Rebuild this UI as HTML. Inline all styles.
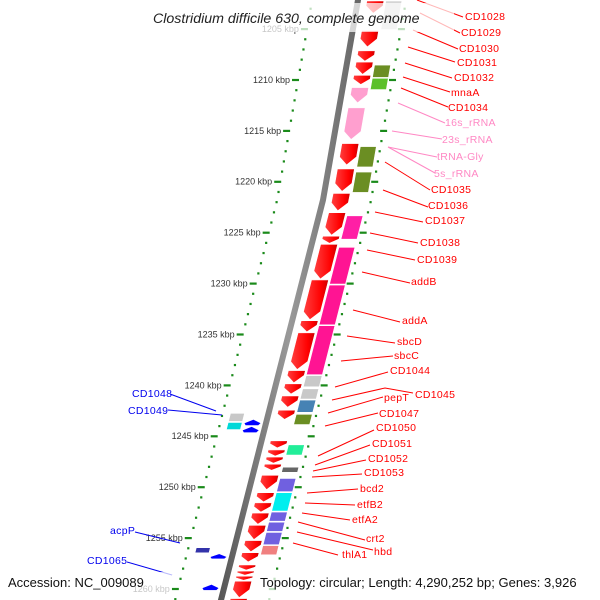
<!DOCTYPE html>
<html><head><meta charset="utf-8"><style>
body{margin:0;background:#fff;}
svg{display:block;font-family:"Liberation Sans",sans-serif;}
</style></head><body>
<svg id="map" width="600" height="600" viewBox="0 0 600 600">
<defs>
<linearGradient id="gRed" x1="0" x2="1" y1="0" y2="0"><stop offset="0" stop-color="#ff4040"/><stop offset="0.7" stop-color="#f00"/><stop offset="1" stop-color="#c00"/></linearGradient>
<linearGradient id="gBack" x1="0" x2="1"><stop offset="0" stop-color="#555"/><stop offset="0.5" stop-color="#999"/><stop offset="1" stop-color="#666"/></linearGradient>
</defs>
<g id="ticks"></g>
<g id="backbone"></g>
<g id="genes"></g>
<g id="labels"></g>
<rect x="148" y="3" width="306" height="29" fill="#fff" fill-opacity="0.72"/>
<text x="153" y="23" font-size="14.2" font-style="italic" fill="#222">Clostridium difficile 630, complete genome</text>
<rect x="4" y="572" width="168" height="28" fill="#fff" fill-opacity="0.72"/>
<text x="8" y="587" font-size="13" fill="#111">Accession: NC_009089</text>
<rect x="255" y="572" width="343" height="28" fill="#fff" fill-opacity="0.72"/>
<text x="260" y="587" font-size="13" fill="#111">Topology: circular; Length: 4,290,252 bp; Genes: 3,926</text>
</svg>
<script>
// gene data (kbp)
const geneStart = [1202.2,1205.1,1207.1,1208.2,1209.5,1210.7,1212.7,1216.2,1218.7,1221.1,1223.0,1225.3,1226.1,1229.6,1233.6,1234.8,1238.5,1239.8,1241.0,1242.4,1245.4,1246.3,1247.0,1247.7,1248.8,1250.5,1251.5,1252.5,1253.7,1255.2,1256.4,1257.6,1258.2,1258.7,1259.2,1260.9,
 1202.2,1208.5,1209.8,1216.5,1219.0,1223.3,1226.4,1230.1,1234.1,1239.0,1240.3,1241.4,1242.8,1245.8,1248.0,1249.1,1250.5,1252.4,1253.4,1254.4,1255.7,
 1242.7,1243.6,1243.3,1244.0,1255.9,1256.5,1259.5];
const geneEnd = [1203.5,1206.8,1208.2,1209.5,1210.5,1212.3,1215.9,1218.4,1221.0,1222.9,1225.3,1226.1,1229.6,1233.6,1234.8,1238.5,1239.8,1240.9,1242.2,1243.4,1246.2,1247.0,1247.7,1248.4,1250.3,1251.5,1252.5,1253.7,1255.2,1256.4,1257.4,1258.2,1258.7,1259.2,1260.9,1262.2,
 1205.1,1209.8,1211.0,1218.6,1221.1,1225.7,1230.1,1234.1,1239.0,1240.2,1241.4,1242.7,1243.9,1246.9,1248.6,1250.5,1252.4,1253.4,1254.4,1255.7,1256.7,
 1243.6,1244.4,1244.0,1244.7,1256.5,1257.1,1260.2];
const geneTrack = [1,1,1,1,1,1,1,1,1,1,1,1,1,1,1,1,1,1,1,1,1,1,1,1,1,1,1,1,1,1,1,1,1,1,1,1,
 2,2,2,2,2,2,2,2,2,2,2,2,2,2,2,2,2,2,2,2,2,
 -2,-2,-1,-1,-2,-1,-1];
const geneColor = ['r','r','r','r','r','#ff9fcf','#ff9fcf','r','r','r','r','r','r','r','r','r','r','r','r','r','r','r','r','r','r','r','r','r','r','r','r','r','r','r','r','r',
 '#d4d4d4','#6b8e23','#5cc02a','#6b8e23','#6b8e23','#ff1fa5','#ff1493','#ff1493','#ff1493','#c8c8c8','#c8c8c8','#4682b4','#6b8e23','#22ee99','#666666','#7060e0','#00eeee','#7060e0','#7060e0','#7060e0','#f08080',
 '#c8c8c8','#00d8d8','#0000ff','#0000ff','#3333aa','#0000ff','#0000ff'];
const tickKbp = [1205,1210,1215,1220,1225,1230,1235,1240,1245,1250,1255,1260];

const NS='http://www.w3.org/2000/svg';
function mk(t,a,p){const e=document.createElementNS(NS,t);for(const k in a)e.setAttribute(k,a[k]);p.appendChild(e);return e;}
function yOf(k){return 29+(k-1205)*10.18;}
const bp=[[-20,361],[0,358],[200,323],[380,277],[600,221],[640,211]];
function bx(y){for(let i=0;i<bp.length-1;i++){const a=bp[i],b=bp[i+1];if(y<=b[0]){return a[1]+(b[1]-a[1])*(y-a[0])/(b[0]-a[0]);}}return bp[bp.length-1][1];}
const trackOff={1:[9,26],2:[28,44],'-1':[-20,-7],'-2':[-38,-24]};

// backbone
const bb=document.getElementById('backbone');
let pts=[];for(let y=-10;y<=610;y+=10)pts.push(bx(y)+','+y);
const bl=mk('polyline',{points:pts.join(' '),fill:'none',stroke:'url(#gBack)','stroke-width':6},bb);



// ticks
const tg=document.getElementById('ticks');
for(let k=1202;k<=1262;k++){
  const y=yOf(k);const xl=bx(y)-46,xr=bx(y)+48;
  const major=(k%5===0);
  const d1=mk('rect',{x:major?xl-6:xl-1,y:y-1,width:major?7:2.2,height:2.2,fill:'#1a8a1a'},tg);
  
  
  const d2=mk('rect',{x:major?xr-3:xr-1,y:y-1,width:major?7:2.2,height:2.2,fill:'#1a8a1a'},tg);
  
  
}
tickKbp.forEach(k=>{
  const y=yOf(k);
  const t=mk('text',{x:bx(y)-54,y:y+3,'text-anchor':'end','font-size':9,fill:'#333'},tg);
  t.textContent=k+' kbp';
  
  
});

// genes
const gg=document.getElementById('genes');
for(let i=0;i<geneStart.length;i++){
  const y0=yOf(geneStart[i])+0.5,y1=yOf(geneEnd[i])-0.5;
  const tr=geneTrack[i],o=trackOff[tr];
  const b0=bx(y0),b1=bx(y1);
  let d;
  const col=geneColor[i]==='r'?'url(#gRed)':geneColor[i];
  if(tr===2||tr===-2){
    d=`M${b0+o[0]},${y0}L${b0+o[1]},${y0}L${b1+o[1]},${y1}L${b1+o[0]},${y1}Z`;
  }else if(tr===1){
    const h=Math.min(8,(y1-y0)*0.6);const ym=y1-h;const bm=bx(ym);
    d=`M${b0+o[0]},${y0}L${b0+o[1]},${y0}L${bm+o[1]},${ym}L${b1+(o[0]+o[1])/2},${y1}L${bm+o[0]},${ym}Z`;
  }else{
    const h=Math.min(8,(y1-y0)*0.6);const ym=y0+h;const bm=bx(ym);
    d=`M${b0+(o[0]+o[1])/2},${y0}L${bm+o[1]+2},${ym}L${b1+o[1]},${y1}L${b1+o[0]},${y1}L${bm+o[0]-2},${ym}Z`;
  }
  const p=mk('path',{d:d,fill:col,stroke:'#fff','stroke-width':0.6},gg);
  
  
}

// labels: text, x, y, line x1,y1,x2,y2, color
const labelText=['CD1028','CD1029','CD1030','CD1031','CD1032','mnaA','CD1034','16s_rRNA','23s_rRNA','tRNA-Gly','5s_rRNA','CD1035','CD1036','CD1037','CD1038','CD1039','addB','addA','sbcD','sbcC','CD1044','CD1045','pepT','CD1047','CD1050','CD1051','CD1052','CD1053','bcd2','etfB2','etfA2','crt2','hbd','thlA1','CD1048','CD1049','acpP','CD1065'];
const labelPos=[[465,20,417,0,463,17],[461,36,420,13,460,33],[459,52,413,30,458,49],[457,66,408,47,455,62],[454,81,405,63,452,78],[451,96,403,77,450,92],[448,111,401,88,448,107],[445,126,398,103,445,123],[442,143,392,131,442,139],[437,160,388,147,437,157],[434,177,388,147,435,173],[431,193,385,162,430,190],[428,209,383,190,428,207],[425,224,375,212,423,222],[420,246,370,233,418,243],[417,263,367,250,415,260],[411,285,362,272,410,283],[402,324,353,310,400,322],[397,345,347,336,395,343],[394,359,341,361,393,356],[390,374,335,387,388,372],[415,398,332,400,385,388],[384,401,328,413,383,397],[379,417,325,426,378,413],[376,431,318,456,374,430],[372,447,315,465,370,445],[368,462,313,471,366,460],[364,476,312,477,362,474],[360,492,307,493,358,489],[357,508,305,503,355,505],[352,523,302,513,350,520],[366,542,298,522,365,540],[374,555,297,532,373,550],[342,558,293,543,338,555],
 [132,397,170,394,216,411],[128,414,168,410,222,415],[110,534,135,532,180,543],[87,564,127,562,172,575]];
const labelColor=['r','r','r','r','r','r','r','p','p','p','p','r','r','r','r','r','r','r','r','r','r','r','r','r','r','r','r','r','r','r','r','r','r','r','b','b','b','b'];
const lg=document.getElementById('labels');
const cmap={r:'#ff0000',p:'#ff88c4',b:'#0000ee'};
labelText.forEach((s,i)=>{
  const p=labelPos[i],c=cmap[labelColor[i]];
  if(i===21){
    const pl=mk('polyline',{points:`${p[2]},${p[3]} ${p[4]},${p[5]} 413,${p[5]+5}`,fill:'none',stroke:c,'stroke-width':1},lg);
    
    
  }else{
    const ln=mk('line',{x1:p[2],y1:p[3],x2:p[4],y2:p[5],stroke:c,'stroke-width':1},lg);
    
    
  }
  const t=mk('text',{x:p[0],y:p[1],'font-size':10.5,fill:c,'letter-spacing':0.3},lg);
  t.textContent=s;
  
  
});
</script>
</body></html>
